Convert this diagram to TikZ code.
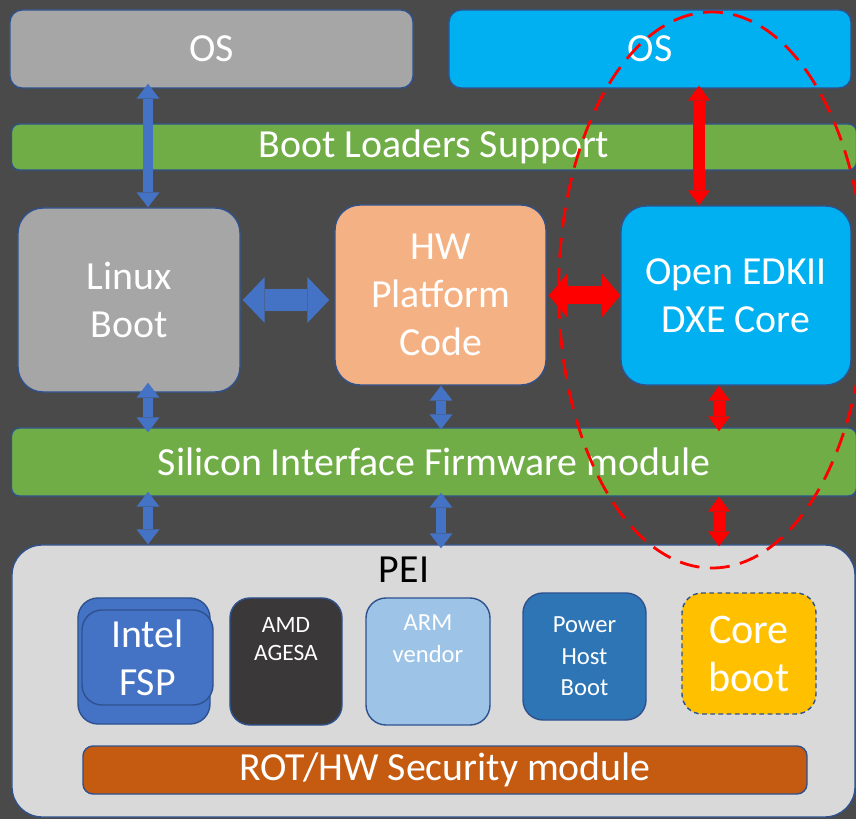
\documentclass[tikz,border=0pt]{standalone}
\usepackage{fontspec}
\setmainfont{Carlito}
\usepackage{tikz}
\usetikzlibrary{arrows.meta,positioning}
\definecolor{bgdark}{HTML}{4A4A4A}
\definecolor{edge}{HTML}{2F528F}
\definecolor{slab}{HTML}{A6A6A6}
\definecolor{sky}{HTML}{00B0F0}
\definecolor{leaf}{HTML}{70AD47}
\definecolor{peach}{HTML}{F4B183}
\definecolor{mist}{HTML}{D9D9D9}
\definecolor{royal}{HTML}{4472C4}
\definecolor{coal}{HTML}{3A3838}
\definecolor{pale}{HTML}{9DC3E6}
\definecolor{steel}{HTML}{2E75B6}
\definecolor{gold}{HTML}{FFC000}
\definecolor{rust}{HTML}{C55A11}
\definecolor{alarm}{HTML}{FF0000}
\newcommand{\lgfont}{\fontsize{34}{41}\selectfont}
\newcommand{\hgfont}{\fontsize{36}{41}\selectfont}
\newcommand{\mdfont}{\fontsize{21}{27}\selectfont}
\newcommand{\smfont}{\fontsize{20}{24}\selectfont}

\begin{document}
\begin{tikzpicture}[x=0.03cm,y=-0.03cm]
\tikzset{
  blk/.style={draw=edge,line width=1.2pt,text=white,align=center,inner sep=0pt,font=\lgfont},
  bar/.style={blk,fill=leaf,rounded corners=0.24cm},
  barrow/.style={draw=royal,line width=0.3cm,{Triangle[length=0.45cm 0 0,width=0.69cm 0 0,line width=0pt]}-{Triangle[length=0.45cm 0 0,width=0.69cm 0 0,line width=0pt]}},
  rarrow/.style={draw=alarm,line width=0.36cm,{Triangle[length=0.45cm 0 0,width=0.66cm 0 0,line width=0pt]}-{Triangle[length=0.45cm 0 0,width=0.66cm 0 0,line width=0pt]}},
  hbarrow/.style={draw=royal,line width=0.66cm,{Triangle[length=0.66cm 0 0,width=1.38cm 0 0,line width=0pt]}-{Triangle[length=0.66cm 0 0,width=1.38cm 0 0,line width=0pt]}},
  hrarrow/.style={draw=alarm,line width=0.54cm,{Triangle[length=0.57cm 0 0,width=1.35cm 0 0,line width=0pt]}-{Triangle[length=0.57cm 0 0,width=1.35cm 0 0,line width=0pt]}},
}
% page
\fill[bgdark] (0,0) rectangle (856,819);
\useasboundingbox (0,0) rectangle (856,819);

% top row
\node[blk,fill=slab,rounded corners=0.36cm,minimum width=12.09cm,minimum height=2.34cm] (osL) at (211.5,49) {OS};
\node[blk,fill=sky,rounded corners=0.36cm,minimum width=12.06cm,minimum height=2.34cm] (osR) at (650,49) {OS};
\node[bar,minimum width=25.35cm,minimum height=1.38cm] (loaders) at (434,147) {Boot Loaders Support};

% middle row
\node[blk,fill=slab,rounded corners=0.75cm,minimum width=6.66cm,minimum height=5.52cm] (linux) at (129,300) {Linux\\Boot};
\node[blk,fill=peach,rounded corners=0.75cm,minimum width=6.33cm,minimum height=5.4cm] (hw) at (440.5,295) {HW\\Platform\\Code};
\node[blk,fill=sky,rounded corners=0.75cm,minimum width=6.9cm,minimum height=5.37cm] (dxe) at (736,295.5) {Open EDKII\\DXE Core};
\node[bar,minimum width=25.35cm,minimum height=2.04cm] (silicon) at (434,462) {Silicon Interface Firmware module};

% PEI block
\node[blk,fill=mist,rounded corners=0.9cm,minimum width=25.29cm,minimum height=8.16cm] (pei) at (433.5,681) {};
\node[font=\lgfont,text=black,inner sep=0pt] (peitxt) at (404,570) {PEI};
\node[blk,fill=royal,rounded corners=0.6cm,minimum width=3.96cm,minimum height=3.78cm] (fspback) at (144,661) {};
\node[blk,fill=royal,rounded corners=0.6cm,minimum width=3.93cm,minimum height=2.85cm] (fsp) at (147.5,657.5) {Intel\\FSP};
\node[blk,fill=coal,rounded corners=0.6cm,minimum width=3.36cm,minimum height=3.81cm] (amd) at (286,661.5) {};
\node[font=\smfont,text=white,align=center,inner sep=0pt] (amdtxt) at (286,639) {AMD\\AGESA};
\node[blk,fill=pale,rounded corners=0.6cm,minimum width=3.72cm,minimum height=3.81cm] (arm) at (428,661.5) {};
\node[font=\mdfont,text=white,align=center,inner sep=0pt] (armtxt) at (428,639) {ARM\\vendor};
\node[blk,fill=steel,rounded corners=0.6cm,minimum width=3.69cm,minimum height=3.81cm,font=\mdfont] (power) at (584.5,656.5) {Power\\Host\\Boot};
\node[blk,fill=gold,dash pattern=on 4pt off 3pt,rounded corners=0.6cm,minimum width=4.02cm,minimum height=3.63cm,font=\hgfont] (coreboot) at (749,653.5) {Core\\boot};
\node[blk,fill=rust,rounded corners=0.3cm,minimum width=21.72cm,minimum height=1.44cm] (rot) at (445,770) {ROT/HW Security module};

% the open part
\draw[alarm,line width=2.4pt,dash pattern=on 17pt off 9pt] (712,290) ellipse [x radius=4.6cm,y radius=8.34cm];

% columns for the links
\coordinate (colA) at (148,0);
\coordinate (colB) at (441,0);
\coordinate (colC) at (719,0);
\coordinate (colD) at (699,0);

% blue links
\draw[barrow,shorten <=-0.15cm] (osL.south -| colA) -- (linux.north -| colA);
\draw[barrow,shorten <=-0.3cm,shorten >=-0.15cm] (linux.south -| colA) -- (silicon.north -| colA);
\draw[barrow,shorten >=-0.06cm] (hw.south -| colB) -- (silicon.north -| colB);
\draw[barrow,shorten <=-0.15cm] (silicon.south -| colA) -- (pei.north -| colA);
\draw[barrow,shorten <=-0.12cm,shorten >=-0.12cm] (silicon.south -| colB) -- (pei.north -| colB);
\draw[hbarrow,shorten <=0.06cm,shorten >=0.15cm] (linux.east) -- (linux.east -| hw.west);

% red links
\draw[rarrow,shorten <=-0.09cm] (osR.south -| colD) -- (dxe.north -| colD);
\draw[rarrow,shorten >=-0.12cm] (dxe.south -| colC) -- (silicon.north -| colC);
\draw[rarrow,shorten >=-0.06cm] (silicon.south -| colC) -- (pei.north -| colC);
\draw[hrarrow,shorten <=0.06cm] (hw.east |- dxe.west) -- (dxe.west);
\end{tikzpicture}
\end{document}
